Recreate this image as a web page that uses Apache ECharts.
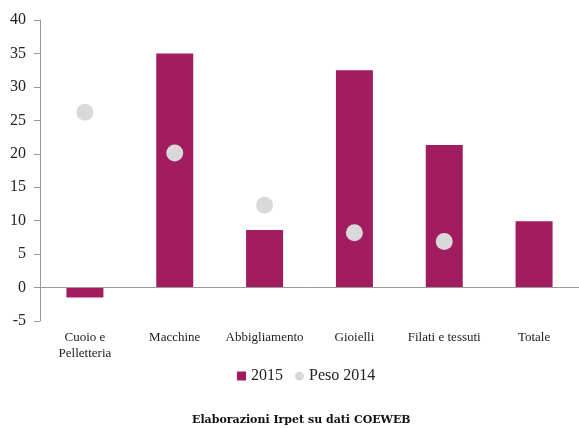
<!DOCTYPE html>
<html>
<head>
<meta charset="UTF-8">
<title></title>
<script src="https://cdn.jsdelivr.net/npm/echarts@6/dist/echarts.min.js"></script>
<style>
  html, body { margin: 0; padding: 0; background: #fff; }
</style>
</head>
<body>
<div id="main" style="width: 579px; height: 428px;"></div>
<script type="text/javascript">
// dati
var categorie = ['Cuoio e\nPelletteria', 'Macchine', 'Abbigliamento', 'Gioielli', 'Filati e tessuti', 'Totale'];
var valori2015 = [-1.5, 35.0, 8.6, 32.5, 21.3, 9.9];
var peso2014 = [26.2, 20.1, 12.3, 8.2, 6.9, null];
var yTicks = { min: -5, max: 40, step: 5 };

var myChart = echarts.init(document.getElementById('main'));
var font = '"Liberation Serif", "DejaVu Serif", serif';

var option = {
  animation: false,
  textStyle: { fontFamily: font },
  grid: { left: 40, top: 20, width: 543, height: 301, containLabel: false },
  legend: {
    top: 363,
    left: 232,
    itemWidth: 9,
    itemHeight: 9,
    itemGap: 12,
    textStyle: { fontFamily: font, fontSize: 16, color: '#222' },
    data: [
      { name: '2015', icon: 'rect' },
      { name: 'Peso 2014', icon: 'circle' }
    ]
  },
  title: {
    text: 'Elaborazioni Irpet su dati COEWEB',
    left: 192,
    top: 415,
    padding: 0,
    textStyle: { fontFamily: '"DejaVu Serif", serif', fontSize: 11, fontWeight: 'bold', color: '#111' }
  },
  xAxis: {
    type: 'category',
    data: categorie,
    axisLine: { show: false, onZero: false },
    axisTick: { show: false },
    axisLabel: {
      margin: 9,
      fontSize: 13,
      lineHeight: 16,
      color: '#222',
      fontFamily: font,
      interval: 0
    }
  },
  yAxis: {
    type: 'value',
    min: yTicks.min,
    max: yTicks.max,
    interval: yTicks.step,
    splitLine: { show: false },
    axisLine: { show: true, lineStyle: { color: '#999', width: 1 } },
    axisTick: { show: true, length: 6, lineStyle: { color: '#999' } },
    axisLabel: { margin: 14, fontSize: 16, color: '#222', fontFamily: font }
  },
  series: [
    {
      name: '2015',
      type: 'bar',
      data: valori2015,
      barWidth: 37,
      itemStyle: { color: '#A11D5F' },
      markLine: {
        silent: true,
        symbol: ['none', 'none'],
        label: { show: false },
        lineStyle: { color: '#999', width: 1, type: 'solid' },
        data: [{ yAxis: 0 }]
      }
    },
    {
      name: 'Peso 2014',
      type: 'scatter',
      data: peso2014,
      symbol: 'circle',
      symbolSize: 17,
      itemStyle: { color: '#D9D9D9', opacity: 1 },
      z: 5
    }
  ]
};

myChart.setOption(option);
</script>
</body>
</html>
